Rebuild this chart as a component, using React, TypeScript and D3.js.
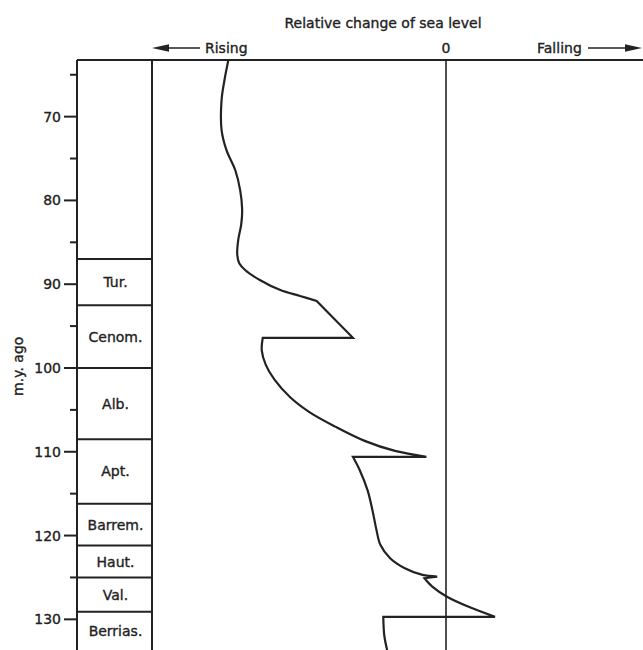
import React from "react";
import * as d3 from "d3";

// Age (m.y. ago) and relative sea-level change (arbitrary units; negative = rising)
const AGES = [
  63.2, 65.6, 68.0, 71.6, 74.0, 76.4, 78.8, 81.1, 82.9, 84.7, 86.5, 87.5, 88.3, 89.5,
  90.7, 91.4, 92.0, 96.4, 96.4, 97.9, 99.6, 101.4, 103.5, 105.3, 107.0, 108.7, 109.9,
  110.6, 110.6, 112.2, 114.6, 117.0, 119.3, 121.1, 122.7, 123.9, 124.7, 124.9, 125.1,
  126.1, 127.3, 128.6, 129.7, 129.7, 131.9, 133.7,
];
const VALUES = [
  -222, -226, -229, -229, -224, -215, -210, -208, -209, -212, -213, -211, -205, -190,
  -169, -149, -132, -95, -187, -188, -184, -175, -159, -139, -113, -83, -52,
  -20, -95, -88, -80, -75, -71, -67, -57, -42, -24, -9, -22,
  -14, 1, 25, 50, -64, -63, -60,
];
// indices where the curve has sharp corners
const CORNERS = [16, 17, 18, 27, 28, 37, 38, 42, 43];

const MAJOR_TICKS = [70, 80, 90, 100, 110, 120, 130];
const MINOR_TICKS = [65, 75, 85, 95, 105, 115, 125];

const STAGE_NAMES = ["Tur.", "Cenom.", "Alb.", "Apt.", "Barrem.", "Haut.", "Val.", "Berrias."];
const STAGE_BOUNDS = [87.0, 92.5, 100, 108.5, 116.2, 121.2, 125, 129.1, 136];

const W = 643;
const H = 650;
const FONT = "DejaVu Sans, Verdana, sans-serif";
const INK = "#222";

export default function App() {
  const top = 60;
  const bottom = 650;
  const axisX = 77;
  const colX = 152;

  const y = d3.scaleLinear().domain([63.24, 133.66]).range([top, bottom]);
  const x = d3.scaleLinear().domain([-300, 200]).range([colX, 642]);

  // Build curve: split into runs at corners, smooth each run, join into one path
  const pts = AGES.map((a, i) => [x(VALUES[i]), y(a)] as [number, number]);
  const cuts = [0, ...CORNERS, pts.length - 1];
  const lineGen = d3.line<[number, number]>().curve(d3.curveCatmullRom.alpha(0.5));
  let d = "";
  for (let k = 0; k < cuts.length - 1; k++) {
    const run = pts.slice(cuts[k], cuts[k + 1] + 1);
    const s = lineGen(run) || "";
    d += k === 0 ? s : s.replace(/^M/, "L");
  }

  const stages = STAGE_NAMES.map((name, i) => ({
    name,
    y0: y(STAGE_BOUNDS[i]),
    y1: Math.min(y(STAGE_BOUNDS[i + 1]), bottom),
  }));

  const textProps = {
    fontSize: 14,
    fill: INK,
    stroke: INK,
    strokeWidth: 0.35,
  };

  return (
    <svg
      width={W}
      height={H}
      style={{ position: "absolute", left: 0, top: 0, display: "block", background: "#fff" }}
      fontFamily={FONT}
    >
      <rect x={0} y={0} width={W} height={H} fill="#fff" />
      <defs>
        <clipPath id="plot">
          <rect x={colX} y={top} width={W - colX} height={bottom - top} />
        </clipPath>
      </defs>

      {/* Header */}
      <text x={383} y={28} textAnchor="middle" {...textProps}>
        Relative change of sea level
      </text>
      <text x={205} y={53} {...textProps}>Rising</text>
      <text x={x(0)} y={53} textAnchor="middle" {...textProps}>0</text>
      <text x={537} y={53} {...textProps}>Falling</text>
      {/* arrows */}
      <line x1={200} y1={48} x2={166} y2={48} stroke={INK} strokeWidth={1.6} />
      <path d="M152,48 L169,44.2 L169,51.8 Z" fill={INK} />
      <line x1={588} y1={48} x2={627} y2={48} stroke={INK} strokeWidth={1.6} />
      <path d="M642,48 L625,44.2 L625,51.8 Z" fill={INK} />

      {/* frame */}
      <line x1={axisX} y1={top} x2={W} y2={top} stroke={INK} strokeWidth={2} />
      <line x1={axisX} y1={top} x2={axisX} y2={bottom} stroke={INK} strokeWidth={2} />
      <line x1={colX} y1={top} x2={colX} y2={bottom} stroke={INK} strokeWidth={2} />
      <line x1={x(0)} y1={top} x2={x(0)} y2={bottom} stroke={INK} strokeWidth={1.6} />

      {/* y ticks */}
      {MAJOR_TICKS.map((t) => (
        <g key={"M" + t}>
          <line x1={axisX - 13} x2={axisX} y1={y(t)} y2={y(t)} stroke={INK} strokeWidth={2} />
          <text x={axisX - 16} y={y(t)} dy="0.36em" textAnchor="end" {...textProps}>
            {t}
          </text>
        </g>
      ))}
      {MINOR_TICKS.map((t) => (
        <line key={"m" + t} x1={axisX - 7} x2={axisX} y1={y(t)} y2={y(t)} stroke={INK} strokeWidth={2} />
      ))}
      <text
        transform={`translate(23,${y(99.8)}) rotate(-90)`}
        textAnchor="middle"
        {...textProps}
      >
        m.y. ago
      </text>

      {/* stages */}
      {stages.map((s) => (
        <g key={s.name}>
          <line x1={axisX} x2={colX} y1={s.y0} y2={s.y0} stroke={INK} strokeWidth={2} />
          <text
            x={(axisX + colX) / 2 + 1}
            y={(s.y0 + s.y1) / 2}
            dy="0.36em"
            textAnchor="middle"
            {...textProps}
          >
            {s.name}
          </text>
        </g>
      ))}

      {/* curve */}
      <path
        d={d}
        fill="none"
        stroke={INK}
        strokeWidth={2.2}
        strokeLinejoin="miter"
        clipPath="url(#plot)"
      />
    </svg>
  );
}
